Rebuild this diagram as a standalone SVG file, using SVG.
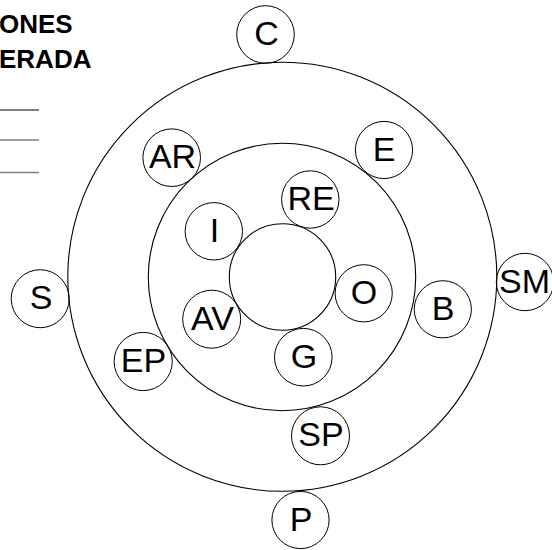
<svg xmlns="http://www.w3.org/2000/svg" width="552" height="550" viewBox="0 0 552 550">
<style>
.ring{fill:none;stroke:#000;stroke-width:1.1}
.nc{fill:none;stroke:#000;stroke-width:1}
.nt{font-family:"Liberation Sans",Arial,sans-serif;font-size:34px;fill:#000;text-anchor:middle}
.tt{font-family:"Liberation Sans",Arial,sans-serif;font-size:26px;font-weight:bold;fill:#000}
</style>
<rect width="552" height="550" fill="#fff"/>
<g id="title">
<text class="tt" x="-1" y="33">ONES</text>
<text class="tt" x="-1" y="68">ERADA</text>
</g>
<g id="legend">
<line x1="0" y1="110" x2="39" y2="110" stroke="#000" stroke-width="1"/>
<line x1="0" y1="140" x2="39" y2="140" stroke="#808080" stroke-width="1.5"/>
<line x1="0" y1="172.5" x2="39" y2="172.5" stroke="#808080" stroke-width="1.5"/>
</g>
<g id="rings">
<circle id="ring-outer" class="ring" cx="282.3" cy="276.8" r="214.5"/>
<circle id="ring-middle" class="ring" cx="282" cy="277" r="133.7"/>
<circle id="ring-inner" class="ring" cx="282.5" cy="277" r="53.2"/>
</g>
<g id="connectors"></g>
<g id="node-C"><circle class="nc" cx="265.5" cy="34.5" r="28.8"/><text class="nt" x="266.5" y="45">C</text></g>
<g id="node-AR"><circle class="nc" cx="171.7" cy="157.7" r="28.8"/><text class="nt" x="172.5" y="168.3">AR</text></g>
<g id="node-E"><circle class="nc" cx="384" cy="150" r="28.6"/><text class="nt" x="384" y="160.5">E</text></g>
<g id="node-RE"><circle class="nc" cx="310.3" cy="199.5" r="28.7"/><text class="nt" x="311" y="210">RE</text></g>
<g id="node-I"><circle class="nc" cx="213.8" cy="231.3" r="28.7"/><text class="nt" x="214.5" y="241.8">I</text></g>
<g id="node-O"><circle class="nc" cx="363.7" cy="293.3" r="28.6"/><text class="nt" x="364" y="303.8">O</text></g>
<g id="node-AV"><circle class="nc" cx="211.7" cy="319.2" r="29"/><text class="nt" x="212.5" y="329.7">AV</text></g>
<g id="node-G"><circle class="nc" cx="303.3" cy="357.2" r="28.8"/><text class="nt" x="304" y="367.7">G</text></g>
<g id="node-S"><circle class="nc" cx="40.2" cy="298.7" r="29"/><text class="nt" x="41" y="309.2">S</text></g>
<g id="node-EP"><circle class="nc" cx="143.2" cy="361.5" r="29.1"/><text class="nt" x="143.5" y="372">EP</text></g>
<g id="node-B"><circle class="nc" cx="442.8" cy="309.3" r="28.6"/><text class="nt" x="443" y="319.8">B</text></g>
<g id="node-SM"><circle class="nc" cx="525" cy="282" r="28.7"/><text class="nt" x="524.5" y="292.5">SM</text></g>
<g id="node-SP"><circle class="nc" cx="320.5" cy="435.8" r="29"/><text class="nt" x="321" y="446.3">SP</text></g>
<g id="node-P"><circle class="nc" cx="300.5" cy="520" r="28.6"/><text class="nt" x="301" y="530.5">P</text></g>
</svg>
